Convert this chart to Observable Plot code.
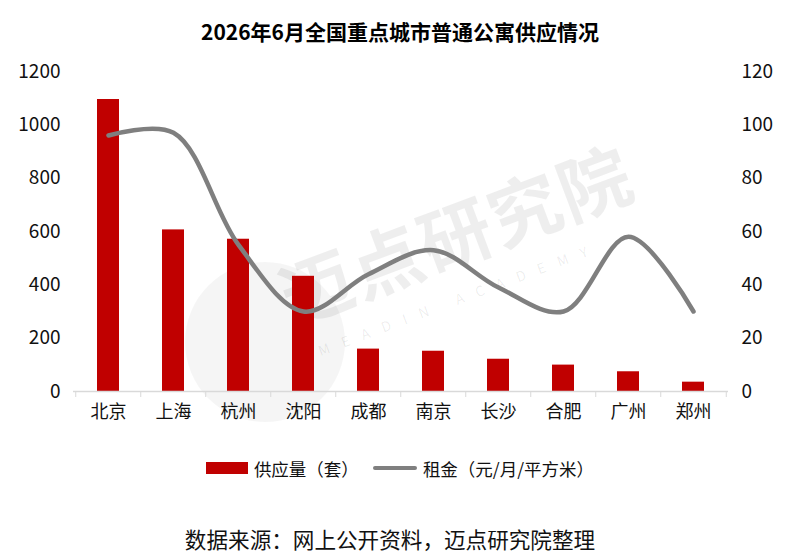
<!DOCTYPE html>
<html>
<head>
<meta charset="utf-8">
<script src="https://cdn.jsdelivr.net/npm/d3@7"></script>
<script src="https://cdn.jsdelivr.net/npm/@observablehq/plot@0.6"></script>
<style>
  html, body { margin: 0; padding: 0; background: #fff; overflow: hidden; }
  body { width: 800px; height: 558px; position: relative; font-family: "Noto Sans CJK SC", "Noto Sans", sans-serif; color: #111; }
  #title { position: absolute; left: 0; top: 0; width: 800px; height: 62px; line-height: 62px; text-align: center; font-size: 21px; font-weight: bold; color: #000; z-index: 3; }
  #chart { position: absolute; left: 0; top: 42px; z-index: 2; }
  #chart svg { background: transparent; }
  #legend { position: absolute; left: 0; top: 452px; width: 800px; height: 32px; display: flex; justify-content: center; align-items: center; font-size: 17.5px; z-index: 2; }
  .item { display: flex; align-items: center; margin: 0 7px; }
  .sw-bar { width: 42px; height: 12px; background: #C00000; margin-right: 6px; }
  .sw-line { width: 44px; height: 4px; border-radius: 2px; background: #7F7F7F; margin-right: 6px; }
  #caption { position: absolute; left: 0; top: 522px; width: 780px; height: 34px; line-height: 34px; text-align: center; font-size: 21.6px; z-index: 2; }
  #wm { position: absolute; left: 0; top: 0; width: 800px; height: 558px; z-index: 1; pointer-events: none; }
  .wm-text { position: absolute; left: 300px; top: 240px; font-size: 72px; color: rgba(0,0,0,0.065); transform: rotate(-20.5deg); transform-origin: left bottom; white-space: nowrap; font-weight: bold; letter-spacing: 2px; }
  .wm-sub { position: absolute; left: 322px; top: 340px; font-size: 14px; color: rgba(0,0,0,0.075); transform: rotate(-20.5deg); transform-origin: left bottom; white-space: nowrap; letter-spacing: 13px; }
  .wm-circle { position: absolute; left: 185px; top: 262px; width: 160px; height: 160px; border-radius: 50%; background: rgba(0,0,0,0.04); }
</style>
</head>
<body>
<div id="title">2026年6月全国重点城市普通公寓供应情况</div>
<div id="wm">
  <div class="wm-circle"></div>
  <div class="wm-text">迈点研究院</div>
  <div class="wm-sub">MEADIN ACADEMY</div>
</div>
<div id="chart"></div>
<div id="legend">
  <div class="item"><div class="sw-bar"></div><span>供应量（套）</span></div>
  <div class="item"><div class="sw-line"></div><span>租金（元/月/平方米）</span></div>
</div>
<div id="caption">数据来源：网上公开资料，迈点研究院整理</div>
<script>
const cities = ["北京", "上海", "杭州", "沈阳", "成都", "南京", "长沙", "合肥", "广州", "郑州"];
const supply = [1095, 606, 571, 432, 159, 151, 121, 99, 74, 35];
const rent = [96, 97, 55, 30, 44, 53, 39, 30, 58, 30];
const leftTicks = [0, 200, 400, 600, 800, 1000, 1200];
const rentFactor = 10; // right axis (0–120) mapped onto left scale (0–1200)

const data = cities.map((c, i) => ({city: c, supply: supply[i], rent: rent[i], rentScaled: rent[i] * rentFactor}));

const width = 800, marginLeft = 73, marginRight = 72;
const step = (width - marginLeft - marginRight) / cities.length;
const font = "'Noto Sans CJK SC', 'Noto Sans', sans-serif";

const chart = Plot.plot({
  width,
  height: 389,
  marginTop: 29,
  marginBottom: 40,
  marginLeft,
  marginRight,
  style: {fontFamily: font, fontSize: "19px", color: "#111", background: "transparent"},
  x: {domain: cities, paddingInner: 0.664, paddingOuter: 0.332, axis: null, label: null},
  y: {domain: [0, 1200], axis: null, label: null},
  marks: [
    Plot.barY(data, {x: "city", y: "supply", fill: "#C00000"}),
    Plot.ruleY([0], {stroke: "#D9D9D9", strokeWidth: 1.3}),
    Plot.axisX({ticks: cities, tickSize: 6, tickFormat: () => "", stroke: "#D9D9D9", dx: -step / 2, label: null}),
    Plot.axisX({ticks: [cities[cities.length - 1]], tickSize: 6, tickFormat: () => "", stroke: "#D9D9D9", dx: step / 2, label: null}),
    Plot.axisX({ticks: cities, tickSize: 0, tickPadding: 14, fontSize: 18, fill: "#111", label: null}),
    Plot.axisY({anchor: "left", ticks: leftTicks, tickSize: 0, tickPadding: 13, fontSize: 19, fill: "#111", label: null, tickFormat: d => String(d)}),
    Plot.axisY({anchor: "right", ticks: leftTicks, tickSize: 0, tickPadding: 13, fontSize: 19, fill: "#111", label: null, tickFormat: d => String(d / rentFactor)}),
    Plot.lineY(data, {x: "city", y: "rentScaled", stroke: "#7F7F7F", strokeWidth: 4.5, curve: "catmull-rom", strokeLinecap: "round"})
  ]
});
document.getElementById("chart").appendChild(chart);
</script>
</body>
</html>
